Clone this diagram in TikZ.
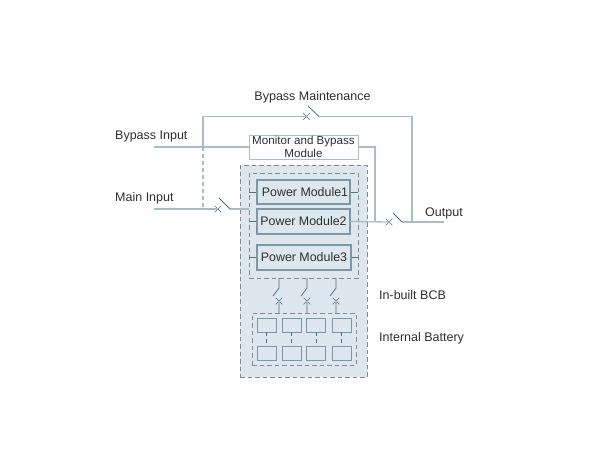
\documentclass[tikz,border=0pt]{standalone}
\usepackage{fontspec}
\setmainfont{Liberation Sans}
\usetikzlibrary{shapes.misc}
\definecolor{wirecol}{HTML}{A9BDC7}
\definecolor{fillcol}{HTML}{DDE7ED}
\definecolor{edgecol}{HTML}{7C98A6}
\definecolor{dashcol}{HTML}{7F8B90}
\definecolor{bladecol}{HTML}{4F7283}
\definecolor{textcol}{HTML}{2E2E2E}
\tikzset{
  wire/.style={draw=wirecol, line width=1.3pt},
  link/.style={draw=wirecol, line width=1.3pt, dash pattern=on 4pt off 3pt},
  blade/.style={draw=bladecol, line width=0.8pt},
  dashbox/.style={draw=dashcol, line width=0.9pt, dash pattern=on 4.5pt off 3pt, inner sep=0pt},
  modbox/.style={draw=edgecol, fill=fillcol, line width=1.2pt, inner sep=0pt, font=\fontsize{12.4}{12.4}\selectfont, text=textcol},
  cellbox/.style={draw=edgecol, line width=0.7pt, inner sep=0pt, minimum width=19pt, minimum height=14pt},
  swcross/.style={cross out, draw=bladecol, line width=0.6pt, inner sep=0pt, minimum size=6pt},
  lbl/.style={inner sep=0pt, font=\fontsize{12.5}{12.5}\selectfont, text=textcol}
}

\begin{document}
\begin{tikzpicture}[x=1pt, y=-1pt]
\useasboundingbox (0,0) rectangle (600,450);

% cabinet
\node [dashbox, fill=fillcol, minimum width=127pt, minimum height=212pt] (cabinet) at (303.5,271) {};
\node [dashbox, minimum width=109pt, minimum height=105pt] (modgroup) at (303.5,225.5) {};
\node [dashbox, minimum width=104pt, minimum height=52pt] (batgroup) at (304,339) {};

\node [draw=wirecol, fill=white, line width=1pt, inner sep=0pt, minimum width=109pt, minimum height=24pt, align=center, text=textcol, font=\fontsize{11.6}{12.5}\selectfont] (monitor) at (303.5,147) {Monitor and Bypass\\Module};

\node [modbox, minimum width=93pt, minimum height=24pt] (pmone) at (303.5,192) {\hspace*{3pt}Power Module1};
\node [modbox, minimum width=93pt, minimum height=25pt] (pmtwo) at (303.5,221.5) {Power Module2};
\node [modbox, minimum width=94pt, minimum height=25pt] (pmthree) at (304,257.5) {Power Module3};

% battery cells
\foreach \i/\x in {1/266.5, 2/291.5, 3/316, 4/341.5} {
  \node [cellbox] (up\i) at (\x,325) {};
  \node [cellbox] (low\i) at (\x,353.5) {};
  \draw [link, draw=bladecol, line width=1pt, dash pattern=on 4pt off 3pt] (up\i) -- (low\i);
}

% labels
\node [lbl] (maintlabel) at (312.5,97) {Bypass Maintenance};
\node [lbl, anchor=west] (bypasslabel) at (115,136.8) {Bypass Input};
\node [lbl, anchor=west] (mainlabel) at (115,197.8) {Main Input};
\node [lbl, anchor=west] (outlabel) at (425,213) {Output};
\node [lbl, anchor=west] (bcblabel) at (379,295) {In-built BCB};
\node [lbl, anchor=west] (battlabel) at (379,338) {Internal Battery};

% switches
\node [swcross] (swmaint) at (306.5,116.5) {};
\coordinate (swmaintr) at (319,116.5);
\coordinate (swmaintt) at (308,106);
\node [swcross] (swmain) at (218,209) {};
\coordinate (swmainr) at (230,209);
\coordinate (swmaintop) at (219,198);
\node [swcross] (swout) at (389,222) {};
\coordinate (swoutr) at (402,222);
\coordinate (swoutt) at (393,213);

% input and output ends
\coordinate (bypassin) at (154,147);
\coordinate (mainin) at (154,209);
\coordinate (outend) at (444,222);
\coordinate (corntl) at (203,116.5);
\coordinate (corntr) at (412,116.5);
\coordinate (bypassj) at (203,147);
\coordinate (mainj) at (203,209);
\coordinate (outj) at (412,222);
\coordinate (monc) at (375,147);
\coordinate (monj) at (375,222);
\coordinate (mainend) at (249,209);

\draw [wire] (bypassin) -- (monitor.west);
\draw [wire] (bypassj) -- (corntl) -- (swmaint.center);
\draw [link] (bypassj) -- (mainj);
\draw [wire] (swmaintr) -- (corntr) -- (outj);
\draw [blade] (swmaintr) -- (swmaintt);
\draw [wire] (mainin) -- (swmain.center);
\draw [wire] (swmainr) -- (mainend);
\draw [blade] (swmainr) -- (swmaintop);
\draw [wire] (monitor.east) -- (monc) -- (monj);
\draw [wire] (pmtwo.east) -- (swout.center);
\draw [wire] (swoutr) -- (outend);
\draw [blade] (swoutr) -- (swoutt);

% stubs to the modules
\foreach \m/\y in {pmone/192, pmtwo/221.5, pmthree/257.5} {
  \coordinate (\m l) at (249,\y);
  \draw [blade, line width=0.6pt] (\m l) -- (\m.west);
}
\coordinate (pmoner) at (358,192);
\coordinate (pmthreer) at (358,257.5);
\draw [blade, line width=0.6pt] (pmone.east) -- (pmoner);
\draw [blade, line width=0.6pt] (pmthree.east) -- (pmthreer);

% battery breakers
\foreach \i/\x in {1/279, 2/307, 3/336} {
  \coordinate (bt\i) at (\x,278);
  \coordinate (bh\i) at (\x,288);
  \coordinate (bb\i) at (\x-6,296);
  \coordinate (be\i) at (\x,313);
  \node [swcross] (bx\i) at (\x,301) {};
  \draw [blade] (bt\i) -- (bh\i) -- (bb\i);
  \draw [wire] (bx\i.center) -- (be\i);
}

\end{tikzpicture}
\end{document}
